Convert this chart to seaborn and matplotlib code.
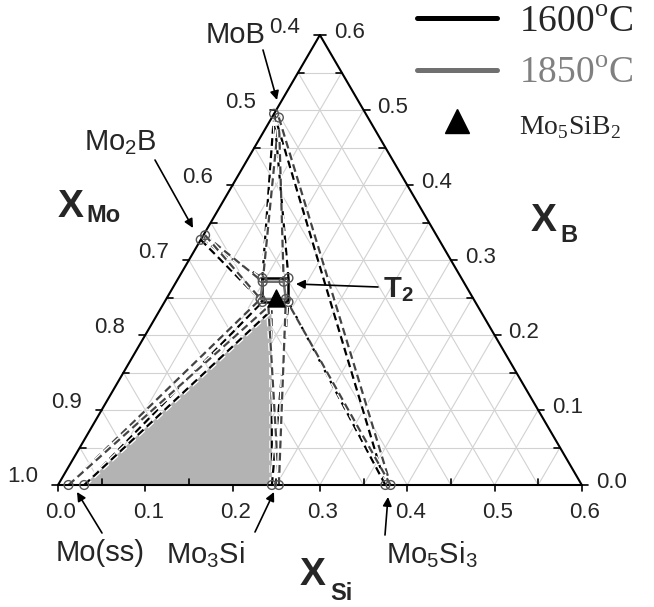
import numpy as np
import pandas as pd
import matplotlib
matplotlib.use("Agg")
import matplotlib.pyplot as plt
import matplotlib.patheffects as pe
from matplotlib.lines import Line2D
import seaborn as sns

# phase compositions (x_Si, x_B), x_Mo = 1 - x_Si - x_B
PHASES_1600 = {
    "Mo(ss)": (0.030, 0.000),
    "Mo3Si": (0.245, 0.000),
    "Mo5Si3": (0.375, 0.000),
    "Mo2B": (0.000, 0.327),
    "MoB": (0.000, 0.495),
    "T2a": (0.096, 0.276),
    "T2b": (0.126, 0.276),
    "T2c": (0.142, 0.244),
    "T2d": (0.112, 0.244),
    "T2e": (0.128, 0.233),
}
PHASES_1850 = {
    "Mo(ss)": (0.012, 0.000),
    "Mo3Si": (0.253, 0.000),
    "Mo5Si3": (0.381, 0.000),
    "Mo2B": (0.002, 0.333),
    "MoB": (0.008, 0.490),
    "T2a": (0.099, 0.271),
    "T2b": (0.123, 0.271),
    "T2c": (0.137, 0.248),
    "T2d": (0.108, 0.248),
    "T2e": (0.122, 0.238),
}
TIE_LINES = [("Mo(ss)", "T2d"), ("Mo(ss)", "T2e"), ("Mo3Si", "T2e"), ("Mo3Si", "T2c"),
             ("Mo2B", "T2a"), ("Mo2B", "T2d"), ("MoB", "T2a"), ("MoB", "T2b"),
             ("MoB", "Mo5Si3"), ("Mo5Si3", "T2c")]
T2_FIELD = ["T2a", "T2b", "T2c", "T2d", "T2a"]
SHADED = ["Mo(ss)", "T2e", "Mo3Si"]
CIRCLED = ["Mo(ss)", "Mo3Si", "Mo5Si3", "Mo2B", "MoB", "T2a", "T2b", "T2c", "T2d"]
T2_POINT = (0.125, 0.250)  # Mo5SiB2

SI_TICKS = [0.0, 0.1, 0.2, 0.3, 0.4, 0.5, 0.6]
MO_TICKS = [1.0, 0.9, 0.8, 0.7, 0.6, 0.5, 0.4]
B_TICKS = [0.0, 0.1, 0.2, 0.3, 0.4, 0.5, 0.6]
MINOR = [0.05, 0.15, 0.25, 0.35, 0.45, 0.55]
GRID_STEPS = [0.05, 0.10, 0.15, 0.20, 0.25, 0.30, 0.35, 0.40, 0.45, 0.50, 0.55]

TEMP_COLORS = {"1600": "black", "1850": "#444444"}

sns.set_theme(style="white")
plt.rcParams["font.family"] = ["Liberation Sans", "DejaVu Sans"]
plt.rcParams["mathtext.fontset"] = "custom"
plt.rcParams["mathtext.rm"] = "Liberation Serif"
plt.rcParams["mathtext.sf"] = "Liberation Sans"
plt.rcParams["mathtext.bf"] = "Liberation Sans:bold"

R3 = np.sqrt(3) / 2


def cart(si, b):
    return si + b / 2, b * R3


def px(x, y):
    # picture pixel -> data coords
    return (x - 58) / 873, (485 - y) / 866


fig = plt.figure(figsize=(6.54, 6.07), dpi=100)
ax = fig.add_axes([0, 0, 1, 1])
ax.set_xlim(-58 / 873, 596 / 873)
ax.set_ylim(-122 / 866, 485 / 866)
ax.axis("off")

# background grid
grid_kw = dict(color="#d2d2d2", lw=0.8, zorder=1)
for g in GRID_STEPS:
    ax.plot(*zip(cart(0, g), cart(0.6 - g, g)), **grid_kw)
    ax.plot(*zip(cart(g, 0), cart(g, 0.6 - g)), **grid_kw)
    ax.plot(*zip(cart(g, 0), cart(0, g)), **grid_kw)

# shaded three phase field
shade = np.array([cart(*PHASES_1600[n]) for n in SHADED])
ax.fill(shade[:, 0], shade[:, 1], color="#b3b3b3", lw=0, zorder=2)

# triangle outline
corners = np.array([cart(0, 0), cart(0.6, 0), cart(0, 0.6), cart(0, 0)])
ax.plot(corners[:, 0], corners[:, 1], color="black", lw=1.5, zorder=6)

# ticks
tx, ty = 6 / 873, 6 / 866
for v in SI_TICKS:
    x, y = cart(v, 0)
    ax.plot([x, x], [y, y - ty], color="black", lw=1.2, zorder=6)
    ax.text(x + 3 / 873, y - 28 / 866, f"{v:.1f}", ha="center", va="center", fontsize=16)
for v in MINOR:
    x, y = cart(v, 0)
    ax.plot([x, x], [y, y + ty], color="black", lw=1.2, zorder=6)
for v in MO_TICKS:
    x, y = cart(0, 1 - v)
    ax.plot([x, x - tx], [y, y], color="black", lw=1.2, zorder=6)
    ax.text(x - 20 / 873, y + 8 / 866, f"{v:.1f}", ha="right", va="center", fontsize=16)
for v in MINOR:
    x, y = cart(0, v)
    ax.plot([x, x + tx], [y, y], color="black", lw=1.2, zorder=6)
for v in B_TICKS:
    x, y = cart(0.6 - v, v)
    ax.plot([x, x + tx], [y, y], color="black", lw=1.2, zorder=6)
    ax.text(x + 14 / 873, y + 3 / 866, f"{v:.1f}", ha="left", va="center", fontsize=16)
for v in MINOR:
    x, y = cart(0.6 - v, v)
    ax.plot([x, x - tx], [y, y], color="black", lw=1.2, zorder=6)

# tie lines for both temperatures
rows = []
pts = []
fields = []
for temp, phases in [("1600", PHASES_1600), ("1850", PHASES_1850)]:
    for k, (p, q) in enumerate(TIE_LINES):
        for name in (p, q):
            x, y = cart(*phases[name])
            rows.append(dict(temp=temp, seg=f"{temp}-{k}", X=x, Y=y))
    for name in T2_FIELD:
        x, y = cart(*phases[name])
        fields.append(dict(temp=temp, X=x, Y=y))
    for name in CIRCLED:
        x, y = cart(*phases[name])
        pts.append(dict(temp=temp, X=x, Y=y))
ties = pd.DataFrame(rows)
fields = pd.DataFrame(fields)
pts = pd.DataFrame(pts)

halo = [pe.withStroke(linewidth=3.6, foreground="white")]
sns.lineplot(data=ties, x="X", y="Y", hue="temp", units="seg", estimator=None, sort=False,
             palette=TEMP_COLORS, lw=1.6, linestyle=(0, (3.5, 2)), legend=False,
             path_effects=halo, ax=ax, zorder=4)
sns.lineplot(data=fields, x="X", y="Y", hue="temp", units="temp", estimator=None, sort=False,
             palette={"1600": "black", "1850": "#707070"}, lw=1.8, legend=False, ax=ax, zorder=5)
sns.scatterplot(data=pts, x="X", y="Y", marker="o", s=40, facecolor="none",
                edgecolor="#555555", linewidth=1.0, ax=ax, zorder=7)
t2 = pd.DataFrame([dict(X=cart(*T2_POINT)[0], Y=cart(*T2_POINT)[1])])
sns.scatterplot(data=t2, x="X", y="Y", marker="^", s=150, color="black",
                edgecolor="black", ax=ax, zorder=8)

# phase labels with arrows
arrow_kw = dict(arrowstyle="-|>", color="black", lw=1.2, mutation_scale=13, shrinkA=0, shrinkB=0)
labels = [
    ("MoB", (236, 35), (263, 50), (277, 100)),
    ("Mo$_\\mathsf{2}$B", (120, 143), (155, 160), (193, 228)),
    ("Mo(ss)", (100, 553), (102, 533), (77, 492)),
    ("Mo$_\\mathsf{3}$Si", (205, 555), (255, 532), (274, 492)),
    ("Mo$_\\mathsf{5}$Si$_\\mathsf{3}$", (432, 555), (385, 535), (388, 497)),
]
for text, pos, tail, tip in labels:
    ax.text(*px(*pos), text, ha="center", va="center", fontsize=21)
    ax.annotate("", xy=px(*tip), xytext=px(*tail), arrowprops=arrow_kw, zorder=9)
ax.text(*px(383, 290), "$\\mathbf{T}_\\mathbf{2}$", ha="left", va="center", fontsize=21)
ax.annotate("", xy=px(296, 284), xytext=px(378, 287), arrowprops=arrow_kw, zorder=9)

# axis titles
for (xp, yp), (sx, sy), sub in [((71, 207), (103, 215), "Mo"), ((544, 221), (569, 235), "B"),
                                ((313, 575), (341, 593), "Si")]:
    ax.text(*px(xp, yp), "X", ha="center", va="center", fontsize=28, fontweight="bold")
    ax.text(*px(sx, sy), sub, ha="center", va="center", fontsize=17, fontweight="bold")

# legend
handles = [Line2D([], [], color="black", lw=3.6),
           Line2D([], [], color="#707070", lw=3.6),
           Line2D([], [], color="black", marker="^", ls="none", markersize=17)]
names = ["1600$^{\\rm o}$C", "1850$^{\\rm o}$C", "Mo$_5$SiB$_2$"]
leg = ax.legend(handles, names, loc="upper left", bbox_to_anchor=(417 / 654, 1 - 5 / 607),
                frameon=False, prop={"family": "Liberation Serif", "size": 27},
                handlelength=2.13, handletextpad=0.6, labelspacing=0.45,
                borderaxespad=0, borderpad=0)
leg.get_texts()[1].set_color("#808080")
leg.get_texts()[2].set_fontsize(20)

fig.savefig("out.png", dpi=100)
